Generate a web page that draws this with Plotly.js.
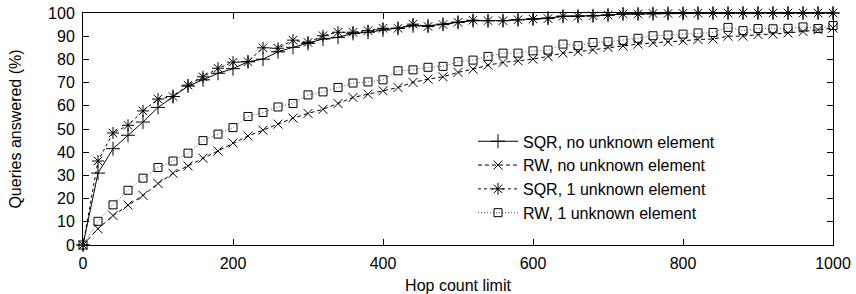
<!DOCTYPE html>
<html>
<head>
<meta charset="utf-8">
<script src="https://cdn.plot.ly/plotly-3.0.1.min.js"></script>
<style>html,body{margin:0;padding:0;background:#fff;}#chart{width:856px;height:294px;}</style>
</head>
<body>
<div id="chart"></div>
<script>
// Hop count limits (0..1000 step 20)
const hops = [0,20,40,60,80,100,120,140,160,180,200,220,240,260,280,300,320,340,360,380,400,420,440,460,480,500,520,540,560,580,600,620,640,660,680,700,720,740,760,780,800,820,840,860,880,900,920,940,960,980,1000];

const sqrNoUnknown = [0,31,41.5,47.3,53,59.3,64,68.5,71.2,74,76,79,80.1,83.3,85.2,86.9,88.8,89.5,91.2,91.7,92.7,93.4,94.5,94.5,95.2,96,96.7,96.7,96.7,97.1,97.4,97.8,98.6,98.6,98.8,99.1,99.6,99.6,99.7,99.8,99.8,99.9,99.9,99.9,100,100,100,100,100,100,100];

const rwNoUnknown = [0,7,12.7,17.2,21.4,26.5,30.9,34.1,37.4,40.5,44,47,49.5,52.1,54.7,56.7,58.5,61,63.6,65,66.5,67.9,70.1,71.5,72.5,74.4,75.8,77.5,78.7,79.4,80.1,81.3,82.7,83.3,84.2,85.2,85.8,86.6,87.2,87.6,88,88.6,88.8,90,90,90.7,90.9,91.4,92,92.8,93.5];

const sqrOneUnknown = [0,36.2,48.3,51.6,57.8,62.9,64,68.9,72.5,76.2,78.8,79,85,84.8,88.3,87.3,90.2,91.7,91.7,92.4,93.4,93.4,95.2,94.2,95,96,96.9,96.7,96.7,97.1,97.4,97.6,98.6,98.6,98.8,99.1,99.6,99.6,99.8,99.8,99.9,99.9,100,100,100,100,100,100,100,100,100];

const rwOneUnknown = [0,10.2,17.3,23.6,28.8,33.4,36.2,39.6,45,47.8,50.6,55.4,57.1,59.5,61,64.7,66,67.9,69.8,70.3,71.2,75.1,75.5,76.6,77,79,79.7,81.3,82.7,82.7,83.7,84,86.6,85.9,87.3,87.6,88.2,89.1,90.2,90.5,90.9,91.4,91.6,93.8,92.4,93.3,93.2,93.4,94,93.3,94.6];

const seriesNames = ["SQR, no unknown element","RW, no unknown element","SQR, 1 unknown element","RW, 1 unknown element"];

const xTicks = [0,200,400,600,800,1000];
const yTicks = [0,10,20,30,40,50,60,70,80,90,100];

const FONT = "Liberation Sans, Arial, Helvetica, sans-serif";

function tr(y, name, dash, lineColor, symbol, size){
  return {
    x: hops, y: y, name: name, type: "scatter", mode: "lines+markers",
    cliponaxis: false,
    line: {color: lineColor, width: 1, dash: dash},
    marker: {symbol: symbol, size: size, color: "#000", line: {color: "#000", width: 1}}
  };
}

const data = [
  tr(sqrNoUnknown, seriesNames[0], "solid", "#000", "cross-thin-open", 10),
  tr(rwNoUnknown, seriesNames[1], "4px,3px", "#000", "x-thin-open", 9),
  tr(sqrOneUnknown, seriesNames[2], "3px,3px", "#000", "asterisk-open", 10),
  tr(rwOneUnknown, seriesNames[3], "1px,2px", "#555", "square-open", 8)
];

const axisCommon = {
  showgrid: false, zeroline: false, showline: true, linecolor: "#000", linewidth: 1,
  mirror: "ticks", ticks: "inside", ticklen: 6, tickwidth: 1, tickcolor: "#000",
  tickfont: {family: FONT, size: 16, color: "#000"}
};

const layout = {
  width: 856, height: 294,
  margin: {l: 83, r: 23, t: 13, b: 49},
  paper_bgcolor: "#fff", plot_bgcolor: "#fff",
  font: {family: FONT, size: 16, color: "#000"},
  xaxis: Object.assign({}, axisCommon, {
    range: [0, 1000], tickvals: xTicks, ticktext: xTicks.map(String),
    ticklabelstandoff: 4,
    title: {text: "Hop count limit", font: {family: FONT, size: 16, color: "#000"}, standoff: 8}
  }),
  yaxis: Object.assign({}, axisCommon, {
    range: [0, 100], tickvals: yTicks, ticktext: yTicks.map(String),
    ticklabelstandoff: 4,
    title: {text: "Queries answered (%)", font: {family: FONT, size: 16, color: "#000"}, standoff: 22}
  }),
  showlegend: true,
  legend: {
    x: 0.52, y: 0.52, xanchor: "left", yanchor: "top",
    bgcolor: "rgba(0,0,0,0)", borderwidth: 0,
    font: {family: FONT, size: 16, color: "#000"},
    tracegroupgap: 0, itemwidth: 40
  }
};

Plotly.newPlot("chart", data, layout, {displayModeBar: false, staticPlot: true});
</script>
</body>
</html>
